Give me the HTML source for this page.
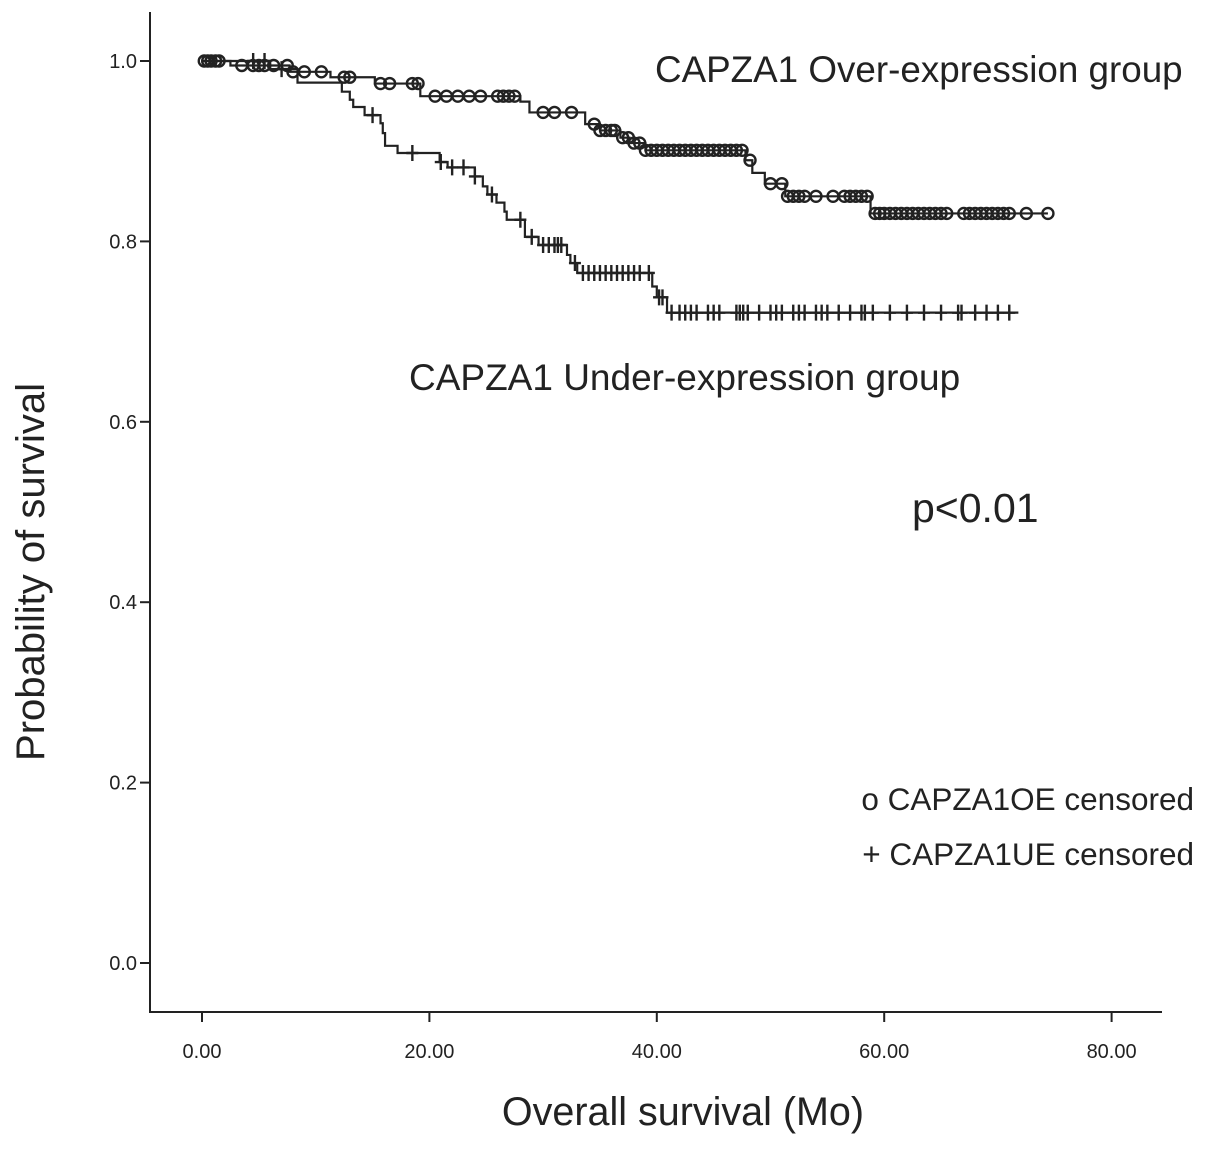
<!DOCTYPE html>
<html><head><meta charset="utf-8"><style>
body{margin:0;background:#fff}
svg text{font-family:"Liberation Sans",sans-serif;fill:#222}
</style></head><body>
<svg id="chart" width="1205" height="1144" xmlns="http://www.w3.org/2000/svg">
<g id="axes"></g><g id="plot"></g>
<text x="655" y="82" font-size="36.8">CAPZA1 Over-expression group</text>
<text x="409" y="390" font-size="37">CAPZA1 Under-expression group</text>
<text x="912" y="522" font-size="41">p&lt;0.01</text>
<text x="1194" y="810" font-size="31.5" text-anchor="end">o CAPZA1OE censored</text>
<text x="1194" y="865" font-size="31.5" text-anchor="end">+ CAPZA1UE censored</text>
<text transform="translate(44,572) rotate(-90)" font-size="40" text-anchor="middle">Probability of  survival</text>
<text x="683" y="1125" font-size="39.5" text-anchor="middle">Overall survival (Mo)</text>
</svg>
<script>
const xTicks=[0,20,40,60,80];
const xTickLabels=["0.00","20.00","40.00","60.00","80.00"];
const yTicks=[0,0.2,0.4,0.6,0.8,1.0];
const yTickLabels=["0.0","0.2","0.4","0.6","0.8","1.0"];
const oeTimes=[2.5,7.7,11.3,15.2,19.2,28,28.8,33.7,35,36.8,37.6,39,47.8,48.4,49.5,51.3,58.8];
const oeSurv=[0.995,0.988,0.982,0.975,0.961,0.955,0.943,0.930,0.923,0.915,0.909,0.901,0.89,0.876,0.864,0.850,0.831];
const oeEnd=74.4;
const oeCensor=[0.2,0.5,0.8,1.2,1.5,3.5,4.5,5,5.5,6.3,7.5,8,9,10.5,12.5,13,15.7,16.5,18.5,19,20.5,21.5,22.5,23.5,24.5,26,26.5,27,27.5,30,31,32.5,34.5,35,35.5,36,36.3,37,37.5,38,38.5,39,39.5,40,40.5,41,41.5,42,42.5,43,43.5,44,44.5,45,45.5,46,46.5,47,47.5,48.2,50,51,51.5,52,52.5,53,54,55.5,56.5,57,57.5,58,58.5,59.2,59.6,60,60.5,61,61.5,62,62.5,63,63.5,64,64.5,65,65.5,67,67.5,68,68.5,69,69.5,70,70.5,71,72.5,74.4];
const ueTimes=[6.0,8.4,12.3,13.0,13.3,14.3,15.7,15.9,16.1,17.2,20.9,21.6,24.0,24.7,25.1,25.9,26.6,26.8,28.4,29.6,32.1,32.4,33.0,39.6,40.0,40.9];
const ueSurv=[0.991,0.976,0.966,0.957,0.949,0.940,0.931,0.920,0.906,0.898,0.888,0.882,0.872,0.861,0.852,0.843,0.833,0.824,0.805,0.796,0.785,0.776,0.765,0.750,0.738,0.721];
const ueEnd=71.8;
const ueCensor=[4.5,5.5,7,15,18.5,21,22,23,24,25.5,28,29,30,30.5,31,31.3,31.6,32.8,33.5,34,34.5,35,35.5,36,36.5,37,37.5,38,38.5,39.3,40.2,40.5,41.3,42,42.5,43,43.5,44.5,45,45.5,47,47.3,47.6,48,49,50,50.5,51,52,52.5,53,54,54.5,55,56,57,58,58.3,59,60.5,62,63.5,65,66.5,66.8,68,69,70,71];
const NS="http://www.w3.org/2000/svg";
const X=v=>202+v*11.37, Y=v=>963-v*902;
function mk(t,a,p){const e=document.createElementNS(NS,t);for(const k in a)e.setAttribute(k,a[k]);p.appendChild(e);return e;}
const ax=document.getElementById('axes'), pl=document.getElementById('plot');
let e=mk('path',{d:'M150,12V1012H1162',fill:'none',stroke:'#222','stroke-width':2},ax);


xTicks.forEach((t,i)=>{
 let l=mk('line',{x1:X(t),x2:X(t),y1:1012,y2:1022,stroke:'#222','stroke-width':2},ax);
 
 
 let tx=mk('text',{x:X(t),y:1058,'font-size':20,'text-anchor':'middle'},ax);tx.textContent=xTickLabels[i];
 
 
});
yTicks.forEach((t,i)=>{
 let l=mk('line',{x1:140,x2:150,y1:Y(t),y2:Y(t),stroke:'#222','stroke-width':2},ax);
 
 
 let tx=mk('text',{x:137,y:Y(t)+7,'font-size':20,'text-anchor':'end'},ax);tx.textContent=yTickLabels[i];
 
 
});
function survAt(times,surv,t){let s=1;for(let i=0;i<times.length;i++){if(times[i]<=t)s=surv[i];}return s;}
function curve(times,surv,end,name){
 let d='M'+X(0)+','+Y(1);
 times.forEach((t,i)=>{d+='H'+X(t)+'V'+Y(surv[i]);});
 d+='H'+X(end);
 let p=mk('path',{d:d,fill:'none',stroke:'#222','stroke-width':2.2},pl);
 
 
}
curve(oeTimes,oeSurv,oeEnd,'oe-survival-line');
curve(ueTimes,ueSurv,ueEnd,'ue-survival-line');
oeCensor.forEach(t=>{
 let c=mk('circle',{cx:X(t),cy:Y(survAt(oeTimes,oeSurv,t)),r:5.5,fill:'none',stroke:'#222','stroke-width':2.4},pl);
 
 
});
ueCensor.forEach(t=>{
 const x=X(t),y=Y(survAt(ueTimes,ueSurv,t));
 let p=mk('path',{d:`M${x},${y-8}V${y+8}M${x-6},${y}H${x+6}`,stroke:'#222','stroke-width':2.4},pl);
 
 
});
</script>
</body></html>
